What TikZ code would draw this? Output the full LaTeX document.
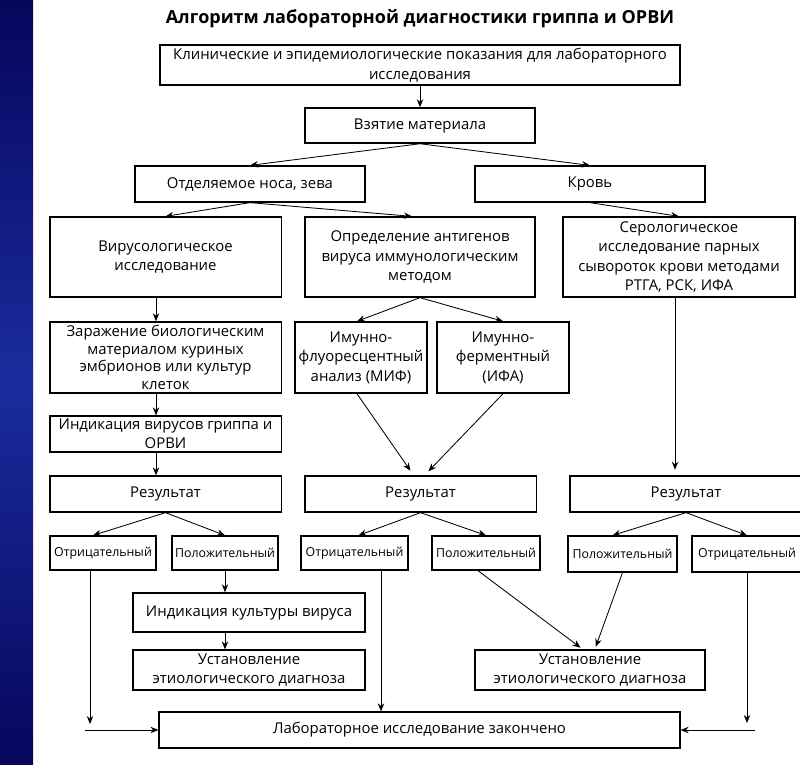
\documentclass[tikz,border=0pt]{standalone}
\usepackage{fontspec}
\setmainfont{Open Sans}
\usetikzlibrary{arrows.meta, positioning, calc}
\definecolor{stripenavy}{RGB}{6,6,92}
\definecolor{stripeblue}{RGB}{26,44,158}
\tikzset{
    stage/.style={rectangle, draw, line width=0.9pt, align=center, inner sep=2pt, font=\fontsize{10.6}{13.8}\selectfont},
    outcome/.style={rectangle, draw, line width=0.9pt, align=center, inner sep=2pt, font=\fontsize{8.8}{11}\selectfont},
    arrow/.style={-{Stealth[length=2mm, width=1.6mm]}, line width=0.6pt},
}
\begin{document}
\begin{tikzpicture}[x=0.025cm, y=-0.025cm]
    \useasboundingbox (0,0) rectangle (800,764);
    \fill[white] (0,0) rectangle (800,764);
    \shade[top color=stripenavy, bottom color=stripenavy, middle color=stripeblue] (0,0) rectangle (33,764);

    \node[font=\fontsize{12.8}{15}\selectfont\bfseries] (title) at (420,19) {Алгоритм лабораторной диагностики гриппа и ОРВИ};

    % top of the scheme
    \node[stage, minimum width=13cm, minimum height=1cm] (klin) at (420,65) {Клинические и эпидемиологические показания для лабораторного\\исследования};
    \node[stage, minimum width=5.75cm, minimum height=0.88cm] (vzyat) at (420,125.5) {Взятие материала};
    \node[stage, minimum width=5.75cm, minimum height=0.9cm] (otdel) at (250,184) {Отделяемое носа, зева};
    \node[stage, minimum width=5.75cm, minimum height=0.9cm] (krov) at (590,184) {Кровь};

    % methods
    \node[stage, minimum width=5.78cm, minimum height=2cm] (viruso) at (165.5,257) {Вирусологическое\\исследование};
    \node[stage, minimum width=5.75cm, minimum height=2cm] (opred) at (420,257) {Определение антигенов\\вируса иммунологическим\\методом};
    \node[stage, minimum width=5.8cm, minimum height=2cm] (serol) at (679,257) {Серологическое\\исследование парных\\сывороток крови методами\\РТГА, РСК, ИФА};
    \node[stage, font=\fontsize{10.6}{12.4}\selectfont, minimum width=5.78cm, minimum height=1.78cm] (zarazh) at (165.5,357.5) {Заражение биологическим\\материалом куриных\\эмбрионов или культур\\клеток};
    \node[stage, minimum width=3.3cm, minimum height=1.78cm] (mif) at (361,357.5) {Имунно-\\флуоресцентный\\анализ (МИФ)};
    \node[stage, minimum width=3.3cm, minimum height=1.78cm] (ifa) at (503,357.5) {Имунно-\\ферментный\\(ИФА)};
    \node[stage, minimum width=5.78cm, minimum height=0.9cm] (indvir) at (165.5,434) {Индикация вирусов гриппа и\\ОРВИ};

    % results
    \node[stage, minimum width=5.78cm, minimum height=0.9cm] (res1) at (165.5,494) {Результат};
    \node[stage, minimum width=5.78cm, minimum height=0.9cm] (res2) at (420.5,494) {Результат};
    \node[stage, minimum width=5.8cm, minimum height=0.9cm] (res3) at (686,494) {Результат};
    \node[outcome, minimum width=2.65cm, minimum height=0.85cm] (neg1) at (103,553) {Отрицательный};
    \node[outcome, minimum width=2.65cm, minimum height=0.85cm] (pos1) at (225,553) {Положительный};
    \node[outcome, minimum width=2.68cm, minimum height=0.85cm] (neg2) at (354.5,553) {Отрицательный};
    \node[outcome, minimum width=2.7cm, minimum height=0.85cm] (pos2) at (486,553) {Положительный};
    \node[outcome, minimum width=2.72cm, minimum height=0.9cm] (pos3) at (622.5,554) {Положительный};
    \node[outcome, minimum width=2.75cm, minimum height=0.9cm] (neg3) at (747,554) {Отрицательный};

    % bottom
    \node[stage, minimum width=5.8cm, minimum height=0.98cm] (indkult) at (249,612.5) {Индикация культуры вируса};
    \node[stage, minimum width=5.8cm, minimum height=1cm] (ust1) at (249,670) {Установление\\этиологического диагноза};
    \node[stage, minimum width=5.75cm, minimum height=1cm] (ust2) at (590,670) {Установление\\этиологического диагноза};
    \node[stage, minimum width=13.02cm, minimum height=0.9cm] (final) at (419.5,730) {Лабораторное исследование закончено};

    \coordinate (lcol) at (156,0);
    \coordinate (n1) at (90,724);
    \coordinate (n1in) at (85,730);
    \coordinate (n2) at (381,0);
    \coordinate (n3) at (747,723);
    \coordinate (n3in) at (755,730);

    % connectors
    \draw[arrow] (klin) -- (vzyat);
    \draw[arrow] (vzyat.south) -- (otdel.north);
    \draw[arrow] (vzyat.south) -- (krov.north);
    \draw[arrow] (otdel.south) -- (viruso.north);
    \draw[arrow] (otdel.south) -- ([xshift=-0.2cm]opred.north);
    \draw[arrow] (krov.south) -- (serol.north);
    \draw[arrow] (viruso.south -| lcol) -- (zarazh.north -| lcol);
    \draw[arrow] (zarazh.south -| lcol) -- (indvir.north -| lcol);
    \draw[arrow] (indvir.south -| lcol) -- (res1.north -| lcol);
    \draw[arrow] (opred.south) -- ([xshift=-0.1cm]mif.north);
    \draw[arrow] (opred.south) -- (ifa.north);
    \draw[arrow, shorten >=4pt] ([xshift=-0.1cm]mif.south) -- ([xshift=-0.17cm]res2.north);
    \draw[arrow, shorten >=4pt] (ifa.south) -- ([xshift=0.1cm]res2.north);
    \draw[arrow, shorten >=4pt] ([xshift=-0.1cm]serol.south) -- ([xshift=-0.1cm]serol.south |- res3.north);

    \draw[arrow] (res1.south) -- ([xshift=-0.25cm]neg1.north);
    \draw[arrow] (res1.south) -- (pos1.north);
    \draw[arrow] (res2.south) -- ([xshift=0.1cm]neg2.north);
    \draw[arrow] (res2.south) -- (pos2.north);
    \draw[arrow] (res3.south) -- ([xshift=-0.25cm]pos3.north);
    \draw[arrow] (res3.south) -- (neg3.north);

    \draw[arrow] (pos1.south) -- (pos1.south |- indkult.north);
    \draw[arrow] (indkult.south -| pos1) -- (ust1.north -| pos1);
    \draw[arrow, shorten >=2pt] ([xshift=-0.2cm]pos2.south) -- ([xshift=-0.18cm]ust2.north);
    \draw[arrow, shorten >=2pt] (pos3.south) -- ([xshift=0.12cm]ust2.north);

    \draw[arrow] (neg1.south -| n1) -- (n1);
    \draw[arrow] (n1in) -- (final.west);
    \draw[arrow] (neg2.south -| n2) -- (final.north -| n2);
    \draw[arrow] (neg3.south -| n3) -- (n3);
    \draw[arrow] (n3in) -- (final.east);
\end{tikzpicture}
\end{document}
